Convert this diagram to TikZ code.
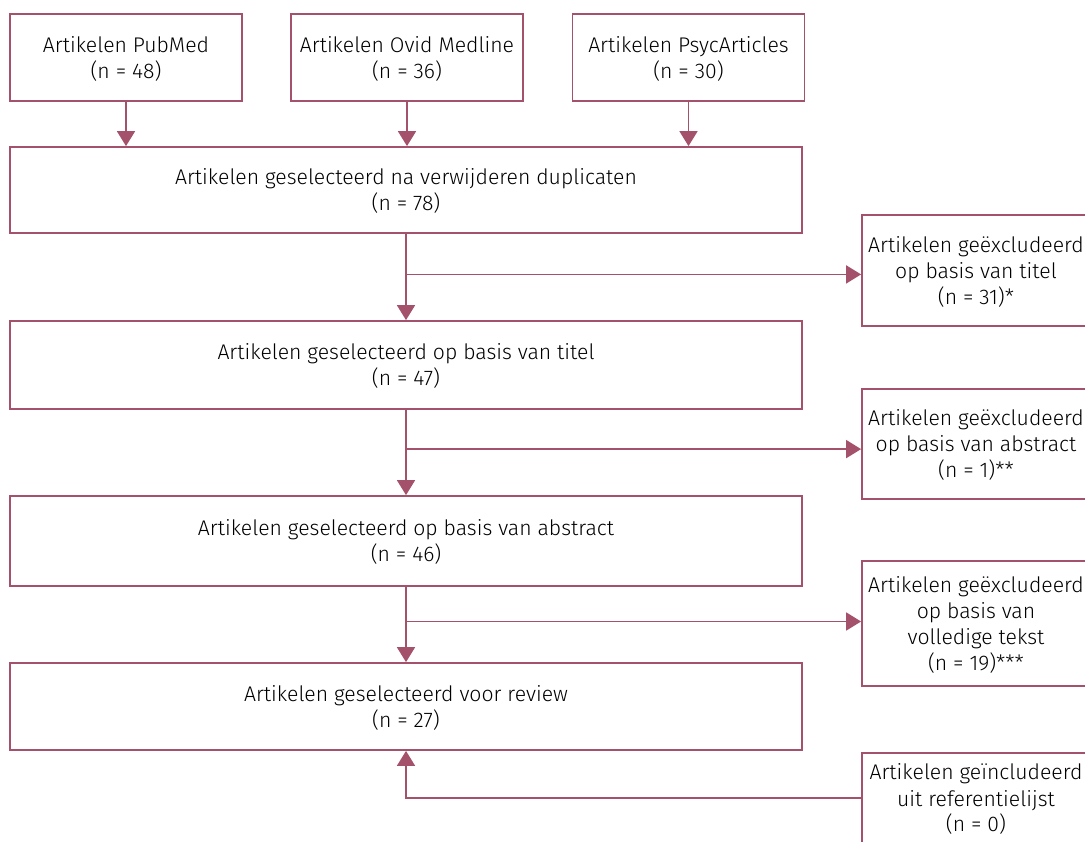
\documentclass[tikz,border=0pt]{standalone}
\usepackage{fontspec}
\setmainfont{Fira Sans}[UprightFont={* Light}]
\usetikzlibrary{arrows.meta, calc}
\definecolor{rose}{RGB}{164,82,108}

\begin{document}
\begin{tikzpicture}[x=0.5pt, y=-0.5pt,
  box/.style = {draw=rose, line width=0.9pt, align=center, font=\fontsize{10.6}{13}\selectfont, inner sep=0pt, text depth=-5pt},
  wide/.style = {box, minimum width=396pt},
  side/.style = {box, minimum width=114pt},
  arr/.style = {draw=rose, line width=0.9pt, -{Triangle[width=9pt, length=7.5pt]}}]
\clip (0,0) rectangle (1085,841);
\node[box, minimum width=116pt, minimum height=43.5pt] (pub) at (126,57.5) {Artikelen PubMed\\(n = 48)};
\node[box, minimum width=116pt, minimum height=43.5pt] (ovid) at (407,57.5) {Artikelen Ovid Medline\\(n = 36)};
\node[box, minimum width=116pt, minimum height=43.5pt] (psyc) at (688.5,57.5) {Artikelen PsycArticles\\(n = 30)};
\node[wide, minimum height=43pt] (dup) at (406,190) {Artikelen geselecteerd na verwijderen duplicaten\\(n = 78)};
\node[wide, minimum height=44pt] (tit) at (406,365) {Artikelen geselecteerd op basis van titel\\(n = 47)};
\node[wide, minimum height=45pt] (abs) at (406,541) {Artikelen geselecteerd op basis van abstract\\(n = 46)};
\node[wide, minimum height=43.5pt] (rev) at (406,706.5) {Artikelen geselecteerd voor review\\(n = 27)};
\node[side, minimum height=55.5pt] (exT) at (976,270.5) {Artikelen geëxcludeerd\\op basis van titel\\(n = 31)*};
\node[side, minimum height=55pt] (exA) at (976,444) {Artikelen geëxcludeerd\\op basis van abstract\\(n = 1)**};
\node[side, minimum height=62.5pt] (exF) at (976,623.5) {Artikelen geëxcludeerd\\op basis van\\volledige tekst\\(n = 19)***};
\node[side, minimum height=45pt] (inc) at (976,798) {Artikelen geïncludeerd\\uit referentielijst\\(n = 0)};
\draw[arr] (pub) -- (pub |- dup.north);
\draw[arr] (ovid) -- (ovid |- dup.north);
\draw[arr] (psyc) -- (psyc |- dup.north);
\draw[arr] (dup) -- (tit);
\draw[arr] (tit) -- (abs);
\draw[arr] (abs) -- (rev);
\coordinate (b1) at ($(dup.south)!.47!(tit.north)$);
\coordinate (b2) at ($(tit.south)!.46!(abs.north)$);
\coordinate (b3) at ($(abs.south)!.46!(rev.north)$);
\draw[arr] (b1) -- (b1 -| exT.west);
\draw[arr] (b2) -- (b2 -| exA.west);
\draw[arr] (b3) -- (b3 -| exF.west);
\draw[arr] (inc.west) -| (rev.south);
\end{tikzpicture}
\end{document}
